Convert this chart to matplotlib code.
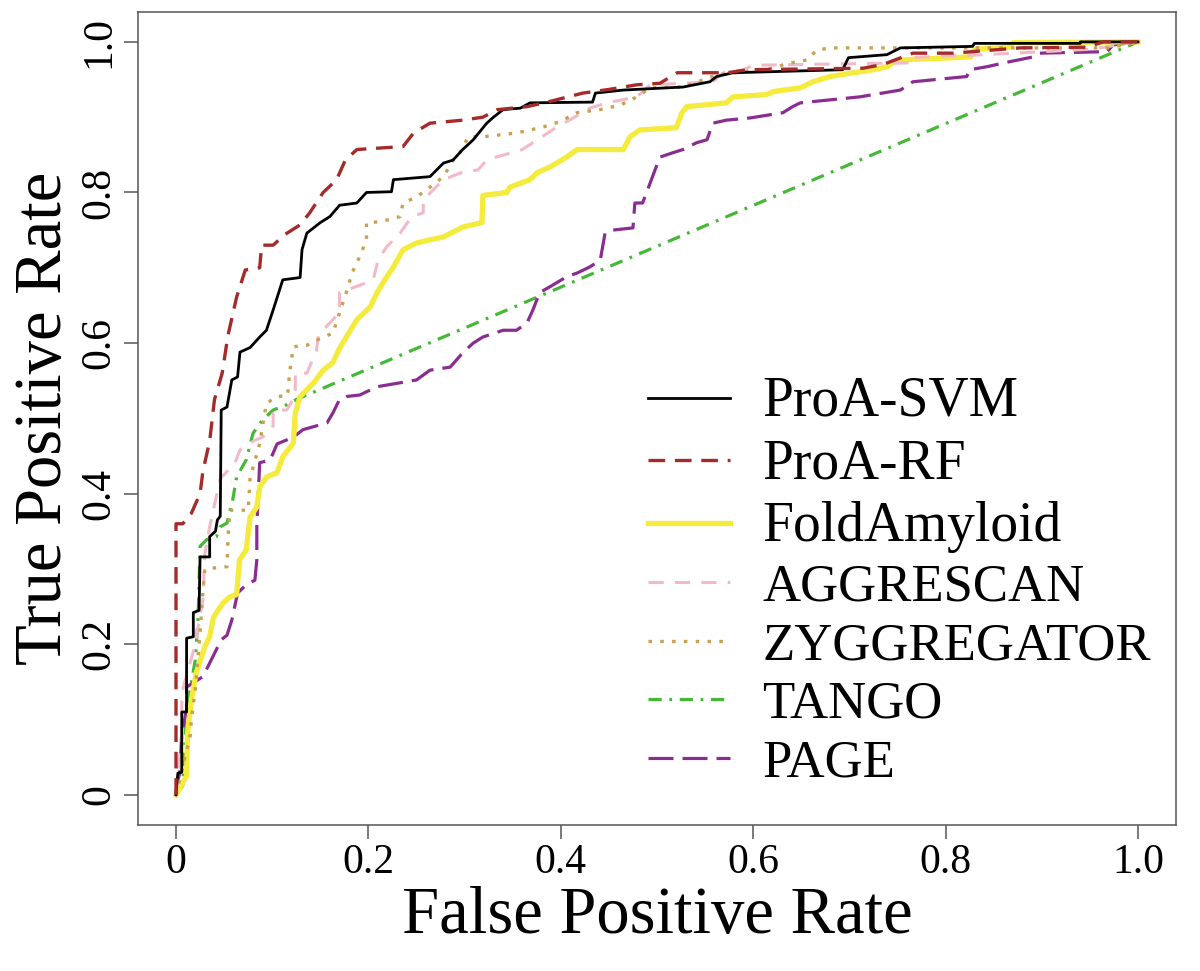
import matplotlib
matplotlib.use('Agg')
import matplotlib.pyplot as plt

plt.rcParams['font.family'] = ['Liberation Serif', 'DejaVu Serif']
plt.rcParams['lines.scale_dashes'] = False

# ROC curves: (false positive rate, true positive rate)
svm_fpr = [0, 0.001, 0.002, 0.006, 0.006, 0.011, 0.011, 0.018, 0.018, 0.024, 0.025, 0.035, 0.035, 0.041, 0.043, 0.046,
           0.047, 0.053, 0.058, 0.064, 0.0665, 0.077, 0.087, 0.094, 0.101, 0.111, 0.129, 0.131, 0.136, 0.15, 0.16,
           0.17, 0.188, 0.198, 0.224, 0.226, 0.264, 0.278, 0.288, 0.298, 0.309, 0.323, 0.33, 0.34, 0.358, 0.368,
           0.433, 0.436, 0.465, 0.527, 0.555, 0.562, 0.579, 0.693, 0.699, 0.739, 0.753, 0.828, 0.83, 0.94, 0.94, 1]
svm_tpr = [0, 0.018, 0.029, 0.03, 0.11, 0.11, 0.208, 0.21, 0.242, 0.245, 0.316, 0.316, 0.343, 0.35, 0.365, 0.37,
           0.511, 0.515, 0.551, 0.555, 0.588, 0.594, 0.608, 0.617, 0.644, 0.684, 0.687, 0.724, 0.746, 0.76, 0.768,
           0.783, 0.786, 0.80, 0.801, 0.817, 0.821, 0.839, 0.843, 0.857, 0.87, 0.892, 0.90, 0.91, 0.912, 0.919,
           0.92, 0.932, 0.936, 0.94, 0.947, 0.954, 0.959, 0.963, 0.979, 0.983, 0.992, 0.994, 0.998, 0.998, 1.0, 1]

rf_fpr = [0, 0, 0.007, 0.016, 0.025, 0.028, 0.035, 0.04, 0.048, 0.054, 0.063, 0.072, 0.087, 0.089, 0.101, 0.113,
          0.129, 0.139, 0.153, 0.167, 0.176, 0.188, 0.236, 0.247, 0.264, 0.298, 0.319, 0.334, 0.365, 0.386, 0.423,
          0.451, 0.479, 0.503, 0.521, 0.573, 0.594, 0.714, 0.735, 0.766, 0.808, 0.877, 0.947, 0.964, 1]
rf_tpr = [0, 0.36, 0.36, 0.374, 0.40, 0.43, 0.47, 0.525, 0.56, 0.61, 0.661, 0.697, 0.70, 0.73, 0.73, 0.744,
          0.757, 0.773, 0.80, 0.817, 0.843, 0.857, 0.861, 0.879, 0.892, 0.896, 0.90, 0.91, 0.914, 0.92, 0.932,
          0.937, 0.943, 0.945, 0.959, 0.959, 0.963, 0.965, 0.97, 0.985, 0.985, 0.992, 0.993, 1.0, 1]

fold_fpr = [0, 0.011, 0.012, 0.016, 0.021, 0.03, 0.035, 0.039, 0.049, 0.056, 0.063, 0.066, 0.073, 0.077, 0.084,
            0.087, 0.094, 0.105, 0.111, 0.122, 0.124, 0.129, 0.143, 0.153, 0.163, 0.17, 0.188, 0.202, 0.209, 0.219,
            0.226, 0.236, 0.25, 0.278, 0.298, 0.318, 0.319, 0.344, 0.347, 0.368, 0.375, 0.389, 0.406, 0.417, 0.465,
            0.472, 0.482, 0.52, 0.526, 0.531, 0.572, 0.579, 0.614, 0.621, 0.649, 0.662, 0.68, 0.704, 0.725, 0.739,
            0.746, 0.753, 0.826, 0.83, 0.867, 0.87, 1]
fold_tpr = [0, 0.025, 0.082, 0.126, 0.162, 0.197, 0.21, 0.236, 0.255, 0.263, 0.266, 0.312, 0.325, 0.369, 0.382,
            0.409, 0.422, 0.428, 0.449, 0.467, 0.507, 0.529, 0.547, 0.564, 0.574, 0.593, 0.631, 0.648, 0.667, 0.688,
            0.701, 0.724, 0.733, 0.741, 0.754, 0.76, 0.796, 0.80, 0.807, 0.817, 0.826, 0.834, 0.847, 0.857, 0.857,
            0.874, 0.883, 0.886, 0.906, 0.914, 0.919, 0.927, 0.93, 0.934, 0.939, 0.947, 0.954, 0.959, 0.963, 0.967,
            0.973, 0.976, 0.98, 0.99, 0.993, 0.999, 1]

aggr_fpr = [0, 0.006, 0.006, 0.02, 0.028, 0.03, 0.035, 0.046, 0.061, 0.0665, 0.082, 0.09, 0.101, 0.101, 0.115,
            0.124, 0.124, 0.136, 0.146, 0.148, 0.16, 0.17, 0.17, 0.198, 0.205, 0.21, 0.219, 0.233, 0.245, 0.257,
            0.257, 0.267, 0.278, 0.298, 0.314, 0.323, 0.333, 0.36, 0.378, 0.396, 0.413, 0.43, 0.448, 0.479, 0.493,
            0.527, 0.558, 0.569, 0.59, 0.6, 0.76, 0.76, 0.84, 0.947, 0.96, 1]
aggr_tpr = [0, 0.08, 0.135, 0.2, 0.26, 0.32, 0.356, 0.42, 0.44, 0.458, 0.471, 0.475, 0.49, 0.511, 0.511,
            0.53, 0.56, 0.56, 0.59, 0.61, 0.627, 0.64, 0.667, 0.68, 0.684, 0.71, 0.728, 0.746, 0.768, 0.773,
            0.79, 0.803, 0.817, 0.827, 0.83, 0.843, 0.847, 0.857, 0.872, 0.887, 0.899, 0.912, 0.919, 0.927, 0.943,
            0.945, 0.947, 0.959, 0.963, 0.969, 0.972, 0.979, 0.983, 0.99, 0.992, 1]

zygg_fpr = [0, 0.015, 0.016, 0.02, 0.025, 0.028, 0.03, 0.053, 0.054, 0.056, 0.075, 0.077, 0.087, 0.094, 0.105,
            0.116, 0.118, 0.122, 0.136, 0.153, 0.163, 0.17, 0.177, 0.183, 0.191, 0.198, 0.198, 0.212, 0.233, 0.236,
            0.25, 0.264, 0.278, 0.288, 0.295, 0.304, 0.319, 0.354, 0.382, 0.399, 0.417, 0.441, 0.462, 0.479, 0.493,
            0.527, 0.562, 0.589, 0.62, 0.635, 0.656, 0.666, 0.68, 0.97, 1]
zygg_tpr = [0, 0.08, 0.1, 0.14, 0.215, 0.27, 0.3, 0.303, 0.339, 0.378, 0.378, 0.42, 0.467, 0.52, 0.529,
            0.53, 0.56, 0.595, 0.597, 0.608, 0.613, 0.64, 0.667, 0.693, 0.715, 0.737, 0.76, 0.761, 0.768, 0.786,
            0.794, 0.807, 0.821, 0.843, 0.853, 0.874, 0.874, 0.879, 0.887, 0.894, 0.906, 0.91, 0.916, 0.927, 0.939,
            0.94, 0.956, 0.96, 0.965, 0.971, 0.976, 0.989, 0.992, 0.992, 1]

tango_fpr = [0, 0.007, 0.011, 0.013, 0.02, 0.023, 0.025, 0.032, 0.042, 0.046, 0.053, 0.059, 0.063, 0.073, 0.08,
             0.09, 0.101, 0.115, 0.125, 1]
tango_tpr = [0, 0.012, 0.11, 0.126, 0.179, 0.236, 0.33, 0.339, 0.343, 0.356, 0.361, 0.392, 0.422, 0.445, 0.48,
             0.498, 0.511, 0.518, 0.525, 1]

page_fpr = [0, 0.001, 0.004, 0.006, 0.011, 0.011, 0.018, 0.028, 0.035, 0.042, 0.047, 0.053, 0.058, 0.064, 0.073,
            0.082, 0.084, 0.084, 0.087, 0.098, 0.105, 0.122, 0.132, 0.157, 0.163, 0.17, 0.177, 0.191, 0.209, 0.25,
            0.264, 0.285, 0.298, 0.309, 0.319, 0.34, 0.354, 0.365, 0.371, 0.378, 0.389, 0.406, 0.417, 0.43, 0.441,
            0.446, 0.454, 0.475, 0.477, 0.485, 0.493, 0.503, 0.517, 0.527, 0.541, 0.552, 0.558, 0.572, 0.597, 0.631,
            0.641, 0.649, 0.711, 0.753, 0.766, 0.822, 0.825, 0.843, 0.864, 0.891, 0.898, 0.968, 0.974, 1]
page_tpr = [0, 0.016, 0.029, 0.082, 0.113, 0.143, 0.149, 0.157, 0.175, 0.193, 0.206, 0.212, 0.232, 0.268, 0.279,
            0.285, 0.312, 0.356, 0.441, 0.445, 0.466, 0.475, 0.485, 0.494, 0.507, 0.525, 0.529, 0.531, 0.542, 0.551,
            0.564, 0.568, 0.587, 0.60, 0.608, 0.617, 0.617, 0.627, 0.644, 0.667, 0.675, 0.688, 0.693, 0.701, 0.71,
            0.746, 0.75, 0.753, 0.786, 0.786, 0.813, 0.847, 0.853, 0.857, 0.866, 0.87, 0.892, 0.896, 0.899, 0.906,
            0.914, 0.919, 0.927, 0.936, 0.947, 0.954, 0.963, 0.967, 0.973, 0.98, 0.985, 0.987, 0.996, 1]

ticks = [0, 0.2, 0.4, 0.6, 0.8, 1.0]
tick_labels = ['0', '0.2', '0.4', '0.6', '0.8', '1.0']

fig = plt.figure(figsize=(12, 9.71), dpi=100)
ax = fig.add_axes([0.1146, 0.1504, 0.8658, 0.8375])

ax.plot(tango_fpr, tango_tpr, color='#46b838', lw=2.3, dashes=(9.5, 5.5, 2, 5.5), label='TANGO')
ax.plot(page_fpr, page_tpr, color='#8a2d90', lw=2.3, dashes=(18, 6.5), label='PAGE')
ax.plot(fold_fpr, fold_tpr, color='#f5eb3d', lw=3.8, label='FoldAmyloid')
ax.plot(aggr_fpr, aggr_tpr, color='#f2bac8', lw=2.2, dashes=(11, 8), label='AGGRESCAN')
ax.plot(zygg_fpr, zygg_tpr, color='#c9a152', lw=2.4, dashes=(2.5, 6), label='ZYGGREGATOR')
ax.plot(svm_fpr, svm_tpr, color='black', lw=2.0, label='ProA-SVM')
ax.plot(rf_fpr, rf_tpr, color='#a52a2a', lw=2.4, dashes=(12, 7), label='ProA-RF')

ax.set_xlim(-0.04, 1.04)
ax.set_ylim(-0.04, 1.04)
ax.set_xticks(ticks)
ax.set_xticklabels(tick_labels)
ax.set_yticks(ticks)
ax.set_yticklabels(tick_labels, rotation=90, va='center')
ax.tick_params(axis='both', direction='out', length=10, width=1.1, color='#555555', labelsize=30)
ax.tick_params(axis='x', pad=3)
ax.tick_params(axis='y', pad=4)
for s in ax.spines.values():
    s.set_color('#555555')
    s.set_linewidth(1.1)

ax.set_xlabel('False Positive Rate', fontsize=48, va='center')
ax.xaxis.set_label_coords(0.5, -0.113)
ax.set_ylabel('True Positive Rate', fontsize=48, va='center')
ax.yaxis.set_label_coords(-0.09, 0.5)

# legend in the same order as the original
order = ['ProA-SVM', 'ProA-RF', 'FoldAmyloid', 'AGGRESCAN', 'ZYGGREGATOR', 'TANGO', 'PAGE']
hs, ls = ax.get_legend_handles_labels()
lookup = dict(zip(ls, hs))
leg = ax.legend([lookup[n] for n in order], order, loc='upper left',
                bbox_to_anchor=(648 / 1200, 1 - 376 / 971), bbox_transform=fig.transFigure,
                frameon=False, fontsize=38, handlelength=1.55, handletextpad=0.62,
                labelspacing=0.2, borderpad=0, borderaxespad=0)
for t in leg.get_texts()[:3]:
    t.set_fontsize(40)

fig.savefig('out.png', dpi=100)
